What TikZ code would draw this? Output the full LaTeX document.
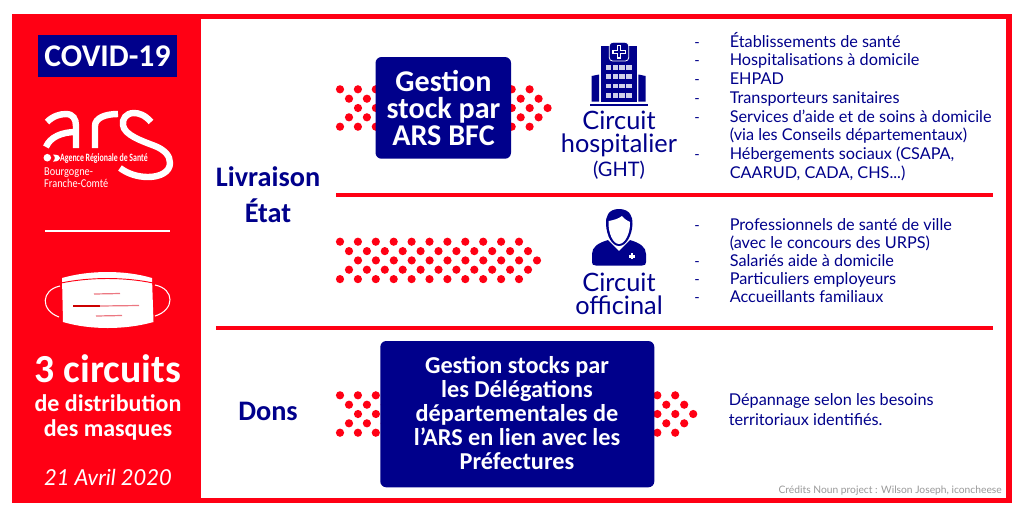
\documentclass[tikz,border=0pt]{standalone}
\usepackage{fontspec}
\setmainfont{Lato}
\newfontfamily\headfont{Carlito}
\usetikzlibrary{positioning}

\definecolor{framered}{RGB}{255,0,20}
\definecolor{boxnavy}{RGB}{0,0,139}
\definecolor{pleatred}{RGB}{236,120,130}

\newcommand{\dotrows}[3]{%
  \foreach \rowdx/\rowdy in {0/0,9/9.4,18/18.7,9/28,0/37.4}
    \foreach \k in {1,...,#3}
      \fill [framered] ({#1+\rowdx+17.9*(\k-1)},{#2+\rowdy}) circle (4.1);
}

\begin{document}
\begin{tikzpicture}[x=0.75pt,y=0.75pt,yscale=-1,xscale=1,
  boldwhite/.style={inner sep=0.75pt,anchor=base,align=center,text=white,font=\headfont\bfseries\fontsize{#1}{#1}\selectfont},
  boxtext/.style 2 args={inner sep=0pt,anchor=center,align=center,text=white,font=\headfont\bfseries\fontsize{#1}{#2}\selectfont},
  bignavy/.style={inner sep=0.75pt,anchor=base,align=center,text=boxnavy,font=\headfont\bfseries\fontsize{21.2}{27}\selectfont},
  circuittext/.style={inner sep=0.75pt,anchor=base,text=boxnavy,font=\fontsize{#1}{#1}\selectfont},
  itemtext/.style={inner sep=0.75pt,anchor=base west,align=left,text=boxnavy,font=\fontsize{12.2}{13.95}\selectfont},
  itemdash/.style={inner sep=0.75pt,anchor=base west,text=boxnavy,font=\fontsize{11}{13.95}\selectfont},
  stockbox/.style={fill=boxnavy,rounded corners=4.5},
  pleat/.style={pleatred,line width=0.9pt},
  logoline/.style={white,line width=4.8pt},
  logotext/.style={inner sep=0pt,anchor=base west,text=white,font=\headfont\fontsize{#1}{#1}\selectfont}]
\useasboundingbox (0,0) rectangle (1024,512);

%Shape: Frame
\fill [white] (0,0) rectangle (1024,512);
\fill [framered] (12,14) rectangle (1012,503);
\fill [white] (201,19) rectangle (1006,498);

%Shape: Covid label
\fill [boxnavy] (38,35) rectangle (177,77);
\draw (107.5,66) node (covid) [boldwhite=23.7] {COVID-19};

%Shape: Logo letters
\draw [logoline] (47,122) .. controls (53,116) and (60,114) .. (66,114) .. controls (73,114) and (76,119) .. (76,126) -- (76,148);
\draw [logoline] (76,132) .. controls (62,132) and (50,137) .. (46,147);
\draw [logoline] (95,148) -- (95,126) .. controls (95,118) and (105,114) .. (118,114);
\draw [logoline] (151,122) .. controls (145,115) and (139,113) .. (134,113) .. controls (126,113) and (122,119) .. (123,125) .. controls (124,135) and (142,141) .. (155,146) .. controls (165,150) and (170,156) .. (170,163) .. controls (170,172) and (160,177) .. (148,177) .. controls (138,177) and (128,174) .. (120,168);
\fill [white] (47.3,157.7) circle (3.8);
\fill [white] (53,154.6) .. controls (63,154.2) and (62,161.8) .. (53,161.6) .. controls (55.5,159) and (55.5,157) .. (53,154.6) -- cycle;
\draw (60,161.5) node (agence) [logotext=8.4,xscale=0.7,anchor=base west] {\bfseries Agence Régionale de Santé};
\draw (44,178) node (bourgogne) [inner sep=0pt,anchor=west,align=left,text=white,xscale=0.86,font=\headfont\fontsize{9}{7.2}\selectfont] {Bourgogne-\\Franche-Comté};

%Straight Lines
\draw [white,line width=1.2pt] (45,231) -- (170,231);

%Shape: Mask loops
\draw [white,line width=0.8pt] (60,286) .. controls (41,290) and (40,310) .. (59,317);
\draw [white,line width=0.8pt] (155,285) .. controls (175,289) and (175,310) .. (155,316);
%Shape: Mask
\fill [white] (62,278) .. controls (90,270) and (125,270) .. (152,278) -- (153.5,322) .. controls (125,330) and (90,330) .. (63,322) -- cycle;
\draw [framered,line width=0.7pt] (61,283) .. controls (90,277) and (125,277) .. (153,283);
\draw [pleat] (94,294) -- (120,293.5);
\draw [pleat,red!80!black] (73,306) -- (100,306);
\draw [pleat] (100,306) -- (139,305.5);
\draw [pleat] (96,316) -- (122,315.5);

%Text Nodes left panel
\draw (108,382) node (nbcircuits) [boldwhite=29.8] {3 circuits};
\draw (108,411) node (distrib) [boldwhite=18] {de distribution};
\draw (108,436) node (masques) [boldwhite=18] {des masques};
\draw (108,485) node (datenote) [inner sep=0.75pt,anchor=base,text=white,font=\itshape\fontsize{16.5}{16.5}\selectfont] {21 Avril 2020};

%Text Nodes section titles
\draw (268,186) node (livraison) [bignavy] {Livraison};
\draw (268,222) node (etat) [bignavy] {État};
\draw (268,420) node (dons) [bignavy] {Dons};

%Shape: Dividers
\draw [framered,line width=2.5pt] (336,195) -- (993,195);
\draw [framered,line width=2.5pt] (216,328) -- (993,328);

%Dots
\dotrows{340}{89.3}{3}
\dotrows{493.8}{89.3}{3}
\dotrows{340}{241.7}{11}
\dotrows{340}{395.3}{3}
\dotrows{639.4}{395.3}{3}

%Rounded Rect
\fill [stockbox] (375.5,57) rectangle (511,158.7);
\draw (443.5,108) node (stockars) [boxtext={22.6}{20.25}] {Gestion\\stock par\\ARS BFC};

%Rounded Rect
\fill [stockbox] (380.3,341) rectangle (654.3,487.3);
\draw (517,413) node (stockdel) [boxtext={18.2}{18.05}] {Gestion stocks par\\les Délégations\\départementales de\\l’ARS en lien avec les\\Préfectures};

%Shape: Hospital
\fill [boxnavy] (590,103.8) rectangle (648,106);
\fill [boxnavy] (591.7,76) -- (599,74.5) -- (599,101.7) -- (591.7,101.7) -- cycle;
\fill [boxnavy] (645.7,76) -- (638.4,74.5) -- (638.4,101.7) -- (645.7,101.7) -- cycle;
\fill [boxnavy] (600.7,45.7) rectangle (637.3,101.7);
\draw [white,line width=0.6pt,fill=boxnavy,rounded corners=2.5] (609.3,42.3) rectangle (628.7,61);
\fill [white] (616.7,45) rectangle (621.3,58.5);
\fill [white] (612.3,49.5) rectangle (625.7,54);
\fill [boxnavy] (617.9,46.2) rectangle (620.1,57.3);
\fill [boxnavy] (613.5,50.7) rectangle (624.5,52.8);
\foreach \winy in {65,74.3,83.7,93}
  \foreach \winx in {605.6,612.5,619.4,626.3}
    \fill [boxnavy!18] (\winx,\winy) rectangle ++(5.8,4.7);

%Shape: Person
\fill [boxnavy] (619,209) .. controls (608,209) and (605.5,217) .. (606,224) .. controls (606.5,236) and (612,246) .. (619,246) .. controls (626,246) and (632,236) .. (632.5,224) .. controls (633,217) and (630,209) .. (619,209) -- cycle;
\fill [white] (608.5,221) .. controls (614,220) and (618,219) .. (622,216) .. controls (624,219) and (628,221) .. (630,222) .. controls (630.5,233) and (625,244) .. (619,244) .. controls (613,244) and (608,233) .. (608.5,221) -- cycle;
\fill [boxnavy] (608,240) -- (619,251) -- (630,240) .. controls (640,243) and (646,247) .. (646,254) -- (646,262) .. controls (646,264.5) and (645,265.5) .. (642,265.5) -- (596,265.5) .. controls (593,265.5) and (592,264.5) .. (592,262) -- (592,254) .. controls (592,247) and (598,243) .. (608,240) -- cycle;
\fill [white] (630.6,253.4) rectangle (632.8,259.4);
\fill [white] (628.7,255.3) rectangle (634.7,257.5);

%Text Nodes circuits
\draw (619,129) node (circuita) [circuittext=19] {Circuit};
\draw (619,152) node (hospitalier) [circuittext=19] {hospitalier};
\draw (619,176) node (ght) [circuittext=15] {(GHT)};
\draw (619,291) node (circuitb) [circuittext=19] {Circuit};
\draw (619,314) node (officinal) [circuittext=19] {officinal};

%Text Nodes first list
\draw (693,47) node (dasha) [itemdash] {-};
\draw (728.5,47) node (etab) [itemtext] {Établissements de santé};
\draw (693,65.7) node (dashb) [itemdash] {-};
\draw (728.5,65.7) node (hospit) [itemtext] {Hospitalisations à domicile};
\draw (693,84.7) node (dashc) [itemdash] {-};
\draw (728.5,84.7) node (ehpad) [itemtext] {EHPAD};
\draw (693,103.7) node (dashd) [itemdash] {-};
\draw (728.5,103.7) node (transp) [itemtext] {Transporteurs sanitaires};
\draw (693,122) node (dashe) [itemdash] {-};
\draw (728.5,122) node (services) [itemtext] {Services d’aide et de soins à domicile};
\draw (728.5,140.4) node (conseils) [itemtext] {(via les Conseils départementaux)};
\draw (693,159) node (dashf) [itemdash] {-};
\draw (728.5,159) node (heberg) [itemtext] {Hébergements sociaux (CSAPA,};
\draw (728.5,178) node (caarud) [itemtext] {CAARUD, CADA, CHS...)};

%Text Nodes second list
\draw (693,230.7) node (dashg) [itemdash] {-};
\draw (728.5,230.7) node (profs) [itemtext] {Professionnels de santé de ville};
\draw (728.5,248.7) node (urps) [itemtext] {(avec le concours des URPS)};
\draw (693,266.7) node (dashh) [itemdash] {-};
\draw (728.5,266.7) node (salaries) [itemtext] {Salariés aide à domicile};
\draw (693,284.7) node (dashi) [itemdash] {-};
\draw (728.5,284.7) node (partic) [itemtext] {Particuliers employeurs};
\draw (693,302.7) node (dashj) [itemdash] {-};
\draw (728.5,302.7) node (accueil) [itemtext] {Accueillants familiaux};

%Text Nodes third list
\draw (727.5,405.7) node (depan) [itemtext] {Dépannage selon les besoins};
\draw (727.5,425.7) node (territ) [itemtext] {territoriaux identifiés.};

% Text Node
\draw (1003,493) node (credits) [inner sep=0.75pt,anchor=base east,text=black!40,font=\fontsize{7.7}{7.7}\selectfont] {Crédits Noun project : Wilson Joseph, iconcheese};

\end{tikzpicture}
\end{document}
